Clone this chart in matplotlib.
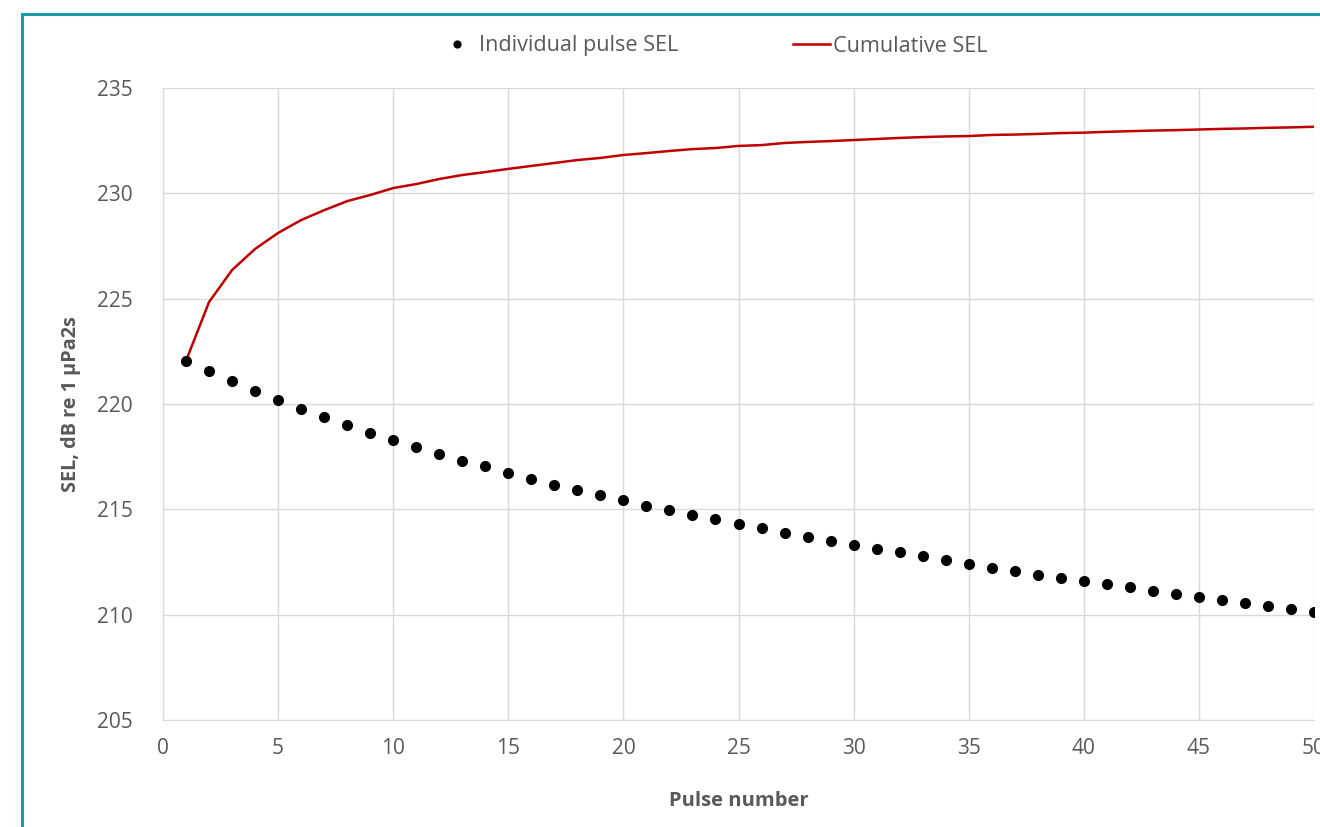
import matplotlib
matplotlib.use("Agg")
import matplotlib.pyplot as plt
from matplotlib.patches import Rectangle

# pulse number 1..50
pulses = list(range(1, 51))

# single-pulse SEL
individual_sel = [
    222.05, 221.57, 221.09, 220.62, 220.19, 219.77, 219.38, 219.00, 218.63, 218.29,
    217.96, 217.63, 217.30, 217.06, 216.73, 216.44, 216.16, 215.92, 215.68, 215.45,
    215.16, 214.97, 214.73, 214.54, 214.31, 214.12, 213.88, 213.69, 213.50, 213.31,
    213.12, 212.98, 212.79, 212.60, 212.41, 212.22, 212.08, 211.89, 211.74, 211.60,
    211.46, 211.32, 211.13, 210.98, 210.84, 210.70, 210.56, 210.41, 210.27, 210.13,
]

# cumulative SEL
cumulative_sel = [
    222.05, 224.84, 226.36, 227.36, 228.12, 228.73, 229.20, 229.63, 229.92, 230.25,
    230.44, 230.68, 230.87, 231.01, 231.16, 231.30, 231.44, 231.58, 231.68, 231.82,
    231.91, 232.01, 232.10, 232.15, 232.25, 232.29, 232.39, 232.44, 232.48, 232.53,
    232.58, 232.63, 232.67, 232.70, 232.72, 232.77, 232.79, 232.82, 232.86, 232.88,
    232.92, 232.95, 232.98, 233.00, 233.03, 233.06, 233.08, 233.11, 233.13, 233.16,
]

x_ticks = list(range(0, 51, 5))
y_ticks = list(range(205, 236, 5))

TEXT = "#595959"
GRID = "#d9d9d9"

plt.rcParams["font.family"] = ["Open Sans", "DejaVu Sans"]

W, H = 1320, 827
fig = plt.figure(figsize=(W / 100, H / 100), dpi=100)
ax = fig.add_axes([163 / W, 1 - 720 / H, (1314 - 163) / W, (720 - 88) / H])

ax.plot(pulses, individual_sel, linestyle="none", marker="o", markersize=7,
        color="black", label="Individual pulse SEL", zorder=3)
ax.plot(pulses, cumulative_sel, color="#c00000", linewidth=1.8,
        label="Cumulative SEL", zorder=2)

ax.set_xlim(0, 50)
ax.set_ylim(205, 235)
ax.set_xticks(x_ticks)
ax.set_yticks(y_ticks)
ax.grid(True, color=GRID, linewidth=1)
ax.set_axisbelow(True)
ax.tick_params(length=0, labelsize=15, colors=TEXT, pad=13)
ax.tick_params(axis="y", pad=22)
for side in ("top", "right"):
    ax.spines[side].set_visible(False)
for side in ("left", "bottom"):
    ax.spines[side].set_color(GRID)

ax.set_xlabel("Pulse number", fontsize=14.5, fontweight="bold", color=TEXT, labelpad=23)
ax.set_ylabel("SEL, dB re 1 μPa2s", fontsize=14.3, fontweight="bold", color=TEXT, labelpad=11)

fig.legend(loc="center", bbox_to_anchor=(713 / W, 1 - 46 / H), ncol=2,
           frameon=False, fontsize=15.6, labelcolor=TEXT, handlelength=1.7,
           handletextpad=0.15, columnspacing=5.3, markerscale=0.7)

# teal chart frame, cut off at right and bottom like the screenshot
fig.patches.append(Rectangle((22 / W, -0.1), 1.2, 1.1 - 14 / H,
                             transform=fig.transFigure, fill=False,
                             edgecolor="#1a9aa8", linewidth=2.2, clip_on=False))

fig.savefig("out.png", dpi=100)
